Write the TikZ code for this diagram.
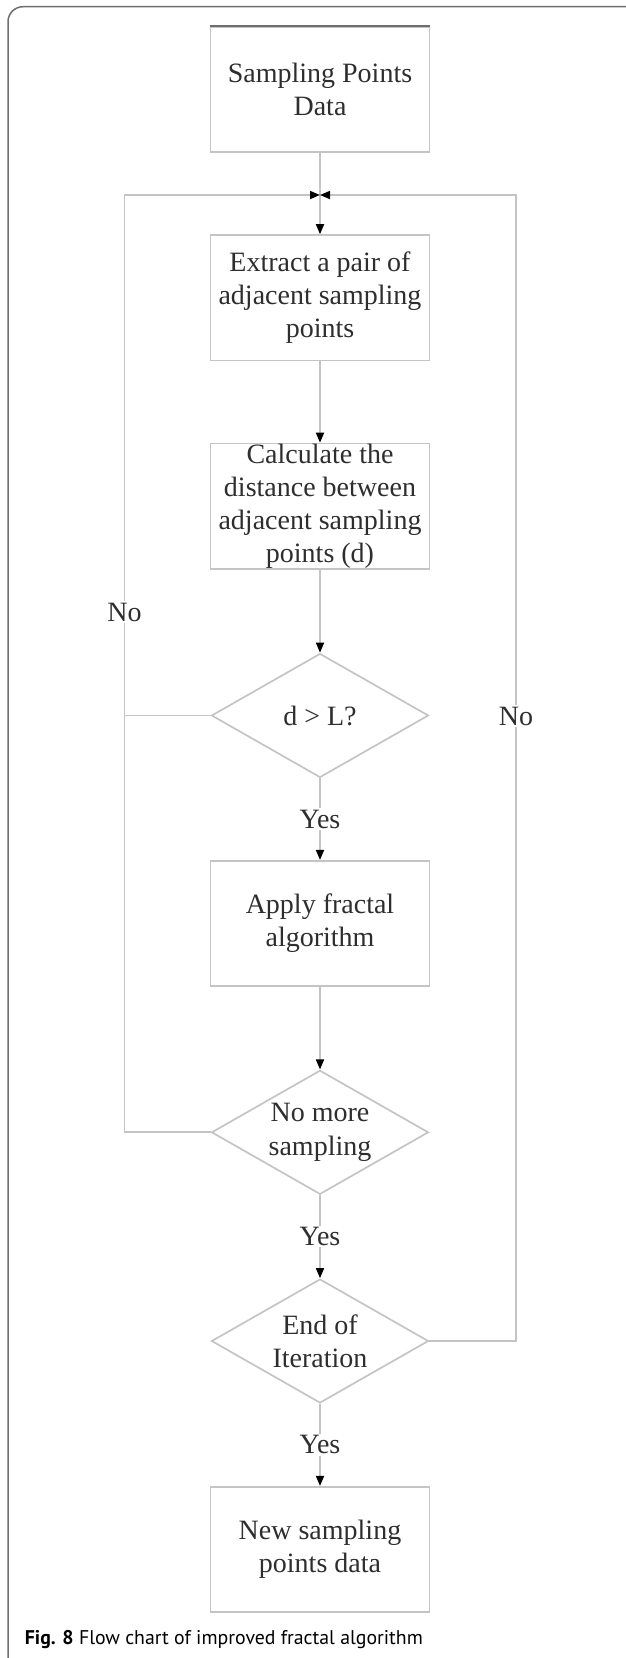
\documentclass[tikz,border=0pt]{standalone}
\usepackage{fontspec}
\setmainfont{Liberation Serif}
\newfontfamily\capfont{PT Sans}
\usetikzlibrary{arrows.meta,shapes.geometric}
\definecolor{ln}{HTML}{C4C4C4}
\definecolor{tx}{HTML}{2E2E2E}
\definecolor{fr}{HTML}{6E6E6E}
\begin{document}
\begin{tikzpicture}[x=1pt,y=-1pt,
  line/.style={draw=ln, line width=1.7pt},
  arr/.style={line, -{Triangle[length=10pt,width=8pt,color=black,fill=black]}},
  txtfont/.style={text=tx, font=\fontsize{28}{33.3}\selectfont},
  box/.style={rectangle, draw=ln, line width=1.7pt, minimum width=219pt, minimum height=125.5pt, inner sep=0pt, align=center, txtfont},
  dia/.style={diamond, aspect=1.75, draw=ln, line width=1.7pt, minimum width=217pt, minimum height=124pt, inner sep=0pt, align=center, txtfont},
  lab/.style={fill=white, inner sep=1.5pt, txtfont}]
\useasboundingbox (0,0) rectangle (625,1658);
% frame
\draw[draw=fr, line width=1.5pt, rounded corners=15pt] (8,1670) -- (8,6.7) -- (640,6.7);
% nodes
\node[box] (b1) at (320,89.5) {Sampling Points\\Data};
\node[box] (b2) at (320,297.8) {Extract a pair of\\adjacent sampling\\points};
\node[box] (b3) at (320,506.3) {Calculate the\\distance between\\adjacent sampling\\points (d)};
\node[dia] (d1) at (320,715.5) {d > L?};
\node[box] (b4) at (320,923.5) {Apply fractal\\algorithm};
\node[dia] (d2) at (320,1132.3) {No more\\sampling};
\node[dia] (d3) at (320,1341) {End of\\Iteration};
\node[box] (b5) at (320,1549.5) {New sampling\\points data};
\draw[draw=fr, line width=2.5pt] (b1.north west) -- (b1.north east);
% junction and loop corners
\coordinate (j) at (320,195);
\coordinate (lt) at (124.4,195);
\coordinate (rt) at (516,195);
% main flow
\draw[line] (b1.south) -- (j);
\draw[arr] (j) -- (b2.north);
\draw[arr] (b2.south) -- (b3.north);
\draw[arr] (b3.south) -- (d1.north);
\draw[arr] (d1.south) -- node[lab] (y1) {Yes} (b4.north);
\draw[arr] (b4.south) -- (d2.north);
\draw[arr] (d2.south) -- node[lab] (y2) {Yes} (d3.north);
\draw[arr] (d3.south) -- node[lab] (y3) {Yes} (b5.north);
% left loop
\draw[line] (d1.west) -- (d1.west -| lt);
\draw[arr] (d2.west) -| (lt) -- (j);
\node[lab] (no1) at (124.4,612) {No};
% right loop
\draw[arr] (d3.east) -| (rt) -- (j);
\node[lab] (no2) at (516,716) {No};
% caption
\node[anchor=west, inner sep=0pt, text=black] (cap) at (24.7,1640)
  {\resizebox{398pt}{!}{\capfont\fontsize{20}{24}\selectfont\textbf{Fig. 8} Flow chart of improved fractal algorithm}};
\end{tikzpicture}
\end{document}
